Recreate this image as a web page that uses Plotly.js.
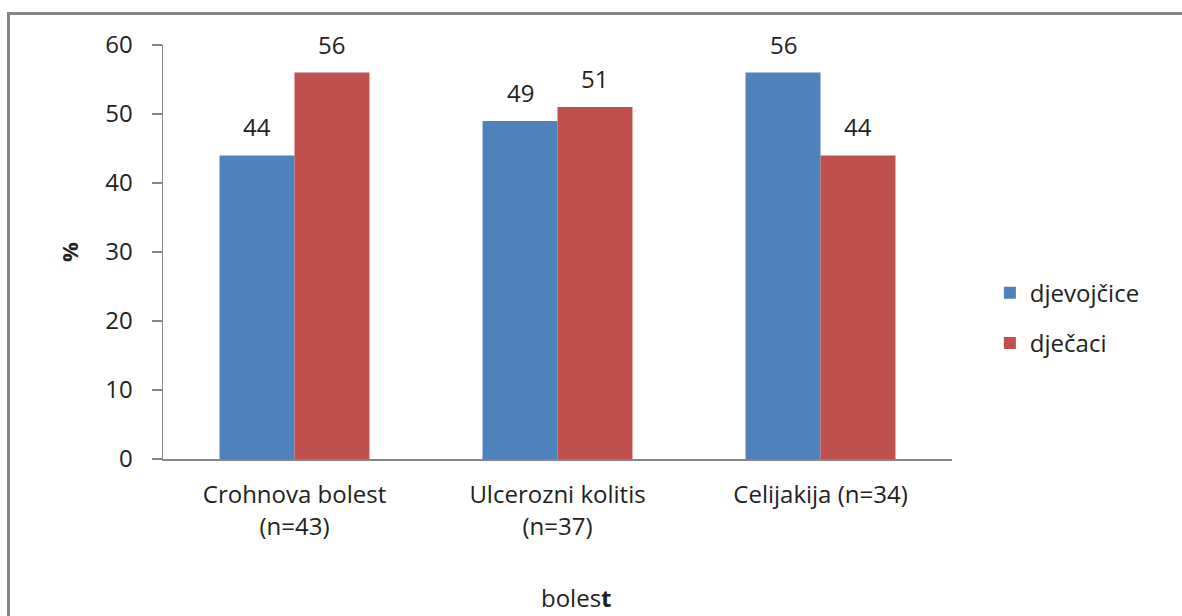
<!DOCTYPE html>
<html>
<head>
<meta charset="utf-8">
<script src="https://cdn.plot.ly/plotly-3.0.1.min.js"></script>
<style>
  html, body { margin: 0; padding: 0; background: #fff; overflow: hidden; }
  #frame { position: absolute; left: 7px; top: 12px; width: 1300px; height: 800px; border: 3px solid #868686; box-sizing: border-box; pointer-events: none; z-index: 2; }
  #chart { position: absolute; left: 0; top: 0; width: 1182px; height: 616px; }
</style>
</head>
<body>
<div id="chart"></div>
<div id="frame"></div>
<script>
const categories = ["Crohnova bolest<br>(n=43)", "Ulcerozni kolitis<br>(n=37)", "Celijakija (n=34)"];
const seriesNames = ["djevojčice", "dječaci"];
const girls = [44, 49, 56];
const boys = [56, 51, 44];
const yTicks = [0, 10, 20, 30, 40, 50, 60];

const FONT = "'Open Sans', sans-serif";
const TXT = "#222222";
const FS = 24;

const traces = [
  {
    type: "bar", name: seriesNames[0], x: categories, y: girls,
    marker: { color: "#4F81BD" },
    offsetgroup: "g", legendgroup: "a"
  },
  {
    type: "bar", name: seriesNames[1], x: categories, y: boys,
    marker: { color: "#C0504D" },
    offsetgroup: "b", legendgroup: "b"
  }
];

// value labels placed above the bars through the axis scales
const barW = (1 - 0.43) / 2; // width of one bar in category units
const labelAnns = [];
[girls, boys].forEach((vals, s) => {
  vals.forEach((v, i) => {
    labelAnns.push({
      xref: "x", yref: "y",
      x: i + (s === 0 ? -barW / 2 : barW / 2), y: v,
      xanchor: "center", yanchor: "bottom", yshift: 10,
      text: String(v), showarrow: false,
      font: { family: FONT, size: FS, color: TXT }
    });
  });
});

const layout = {
  width: 1182, height: 616,
  margin: { l: 163, r: 230, t: 45, b: 157 },
  paper_bgcolor: "#fff", plot_bgcolor: "#fff",
  font: { family: FONT, size: FS, color: TXT },
  barmode: "group",
  bargap: 0.43, bargroupgap: 0,
  showlegend: true,
  legend: {
    x: 1.048, xanchor: "left", y: 0.34, yanchor: "middle",
    traceorder: "grouped", tracegroupgap: 16,
    font: { family: FONT, size: FS, color: TXT }
  },
  xaxis: {
    type: "category",
    showline: true, linecolor: "#868686", linewidth: 1.5,
    ticks: "", showgrid: false, zeroline: false,
    tickfont: { family: FONT, size: FS, color: TXT },
    ticklabelstandoff: 14
  },
  yaxis: {
    range: [0, 60], tickvals: yTicks,
    showline: true, linecolor: "#868686", linewidth: 1.5,
    ticks: "outside", ticklen: 10, tickcolor: "#868686", tickwidth: 1.5,
    showgrid: false, zeroline: false,
    tickfont: { family: FONT, size: FS, color: TXT },
    ticklabelstandoff: 14,
    title: { text: "<b>%</b>", font: { family: FONT, size: 22, color: TXT }, standoff: 20 }
  },
  annotations: labelAnns.concat([
    {
      xref: "paper", yref: "paper",
      x: (576 - 163) / 789, y: -(597 - 459) / 414,
      xanchor: "center", yanchor: "middle",
      text: "boles<b>t</b>", showarrow: false,
      font: { family: FONT, size: FS, color: TXT }
    }
  ])
};

Plotly.newPlot("chart", traces, layout, { displayModeBar: false, staticPlot: true });
</script>
</body>
</html>
